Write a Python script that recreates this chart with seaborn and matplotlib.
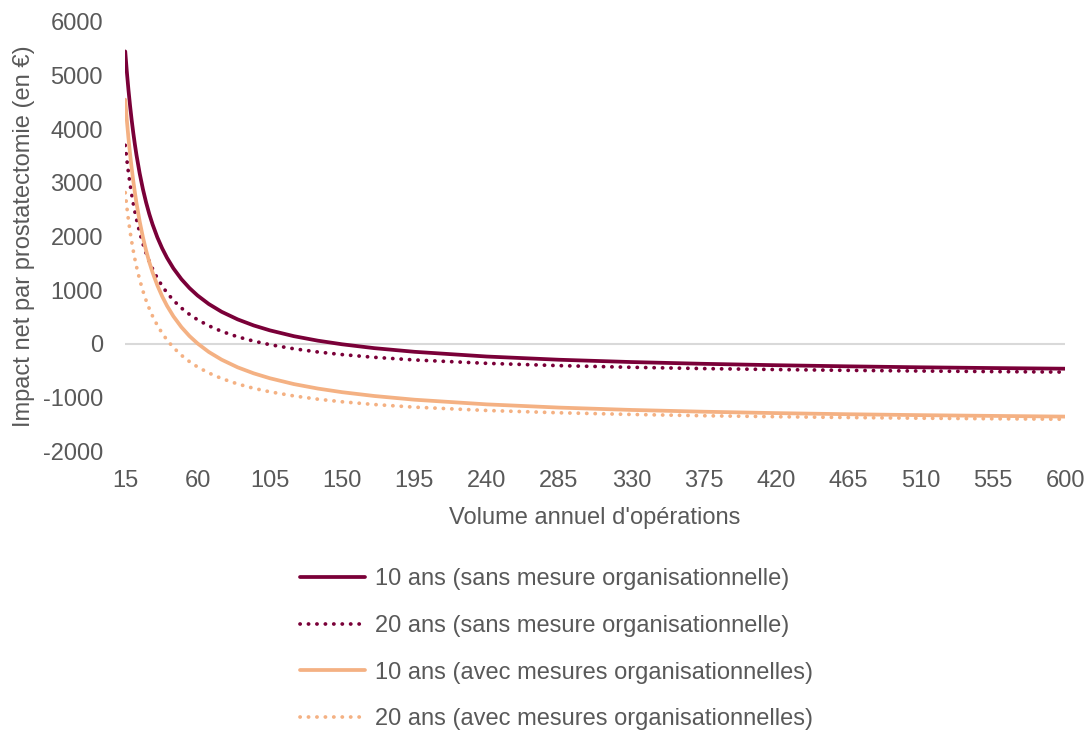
import numpy as np
import pandas as pd
import seaborn as sns
import matplotlib.pyplot as plt

# volume annuel d'opérations
volume = [15, 16, 17, 18, 19, 20, 21, 22, 24, 26, 28, 30, 32, 35, 38, 41, 45, 50,
          55, 60, 67, 75, 85, 95, 105, 120, 135, 150, 170, 195, 240, 285, 330,
          375, 420, 465, 510, 555, 600]

# impact net par prostatectomie (en €)
ans10_sans = [5450, 5071, 4736, 4439, 4172, 3933, 3716, 3519, 3175, 2883, 2633,
              2416, 2227, 1983, 1778, 1603, 1405, 1203, 1038, 900, 741, 596, 454,
              341, 250, 141, 57, -10, -82, -150, -238, -298, -341, -374, -400,
              -421, -439, -453, -465]
ans20_sans = [3700, 3429, 3190, 2977, 2787, 2616, 2461, 2320, 2074, 1866, 1687,
              1532, 1397, 1222, 1076, 950, 809, 665, 547, 448, 335, 231, 129, 49,
              -17, -94, -154, -202, -253, -302, -365, -408, -439, -463, -481,
              -496, -508, -519, -528]
ans10_avec = [4550, 4171, 3837, 3540, 3274, 3035, 2819, 2622, 2278, 1986, 1737,
              1520, 1331, 1088, 883, 708, 511, 309, 143, 6, -153, -297, -440,
              -552, -643, -752, -836, -903, -974, -1043, -1130, -1190, -1234,
              -1267, -1293, -1314, -1331, -1345, -1358]
ans20_avec = [2818, 2548, 2309, 2096, 1906, 1735, 1580, 1440, 1193, 985, 806, 652,
              516, 342, 196, 70, -71, -215, -333, -432, -545, -648, -750, -831,
              -896, -973, -1034, -1082, -1133, -1182, -1244, -1287, -1318, -1342,
              -1360, -1375, -1388, -1398, -1407]

labels = ["10 ans (sans mesure organisationnelle)",
          "20 ans (sans mesure organisationnelle)",
          "10 ans (avec mesures organisationnelles)",
          "20 ans (avec mesures organisationnelles)"]
series = [ans10_sans, ans20_sans, ans10_avec, ans20_avec]

df = pd.concat([pd.DataFrame({"volume": volume, "impact": s, "serie": l})
                for s, l in zip(series, labels)])

sns.set_style("white")
plt.rcParams["font.family"] = ["Liberation Sans", "DejaVu Sans"]
plt.rcParams["axes.unicode_minus"] = False

bordeaux = "#7a0038"
orange = "#f4b183"
gris = "#595959"
pointille = (0, (0.05, 2.2))
couleurs = [bordeaux, bordeaux, orange, orange]
styles = ["-", pointille, "-", pointille]

fig = plt.figure(figsize=(10.89, 7.31), dpi=100)
ax = fig.add_axes([0.115, 0.383, 0.863, 0.587])

ax.axhline(0, color="#d9d9d9", lw=1.5, zorder=0)
for l, c, st in zip(labels, couleurs, styles):
    sns.lineplot(data=df[df["serie"] == l], x="volume", y="impact", ax=ax,
                 color=c, lw=2.7, label=l)
    ax.lines[-1].set_linestyle(st)
    ax.lines[-1].set_dash_capstyle("round")

ax.set_xlim(15, 600)
ax.set_ylim(-2000, 6000)
ax.set_xticks(range(15, 601, 45))
ax.set_yticks(range(-2000, 6001, 1000))
for s in ax.spines.values():
    s.set_visible(False)
ax.tick_params(axis="both", length=0, labelsize=17, labelcolor=gris)
ax.tick_params(axis="x", pad=14)
ax.tick_params(axis="y", pad=16)

ax.set_xlabel("Volume annuel d'opérations", fontsize=17, color=gris)
ax.set_ylabel("Impact net par prostatectomie (en €)", fontsize=17, color=gris)
ax.xaxis.set_label_coords(0.5, -0.13)
ax.yaxis.set_label_coords(-0.096, 0.5)

ax.get_legend().remove()
h, lab = ax.get_legend_handles_labels()
h = [x for x in h if x.get_label() in labels]
leg = fig.legend(h, labels, loc="upper center", bbox_to_anchor=(0.511, 0.252),
                 frameon=False, fontsize=17, handlelength=2.75, handletextpad=0.42,
                 labelspacing=1.05)
for t in leg.get_texts():
    t.set_color(gris)

fig.savefig("out.png", dpi=100)
